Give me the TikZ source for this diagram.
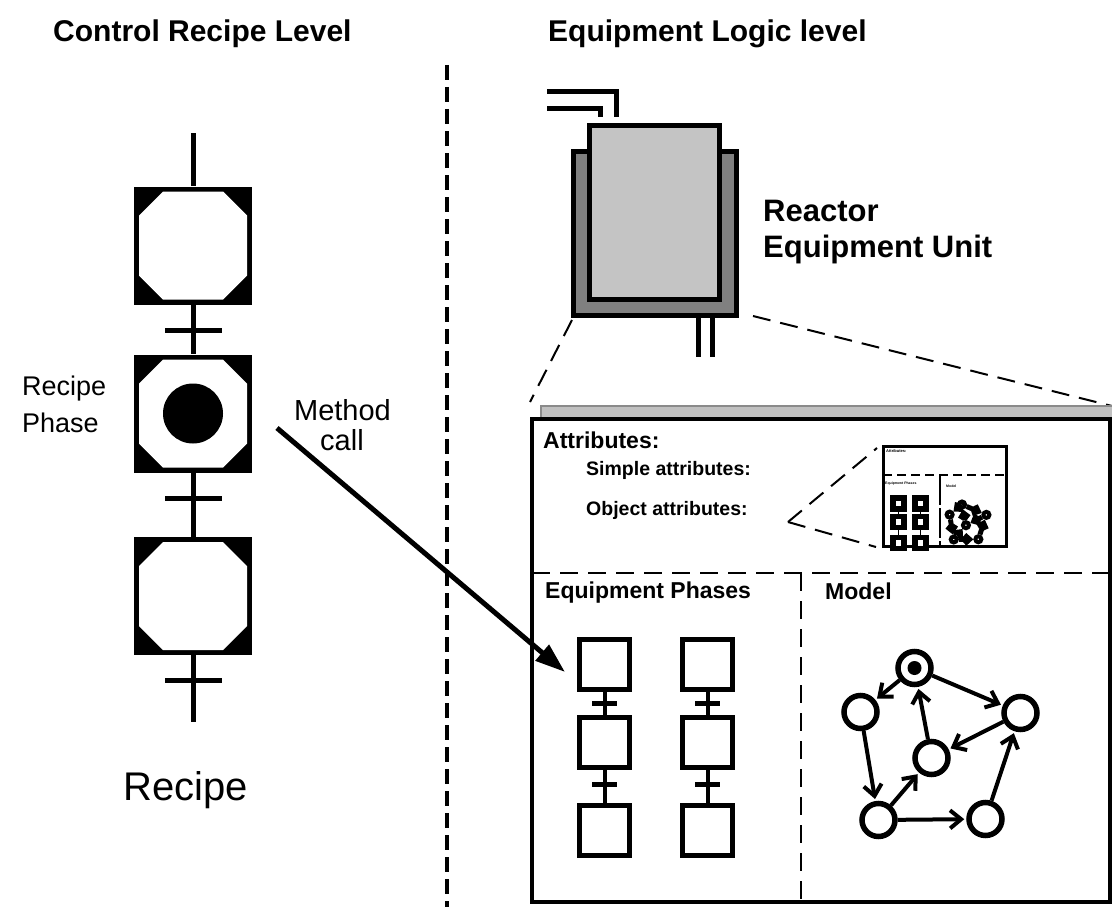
\documentclass[tikz,border=0pt]{standalone}
\usepackage{fontspec}
\setmainfont{Liberation Sans}
\usetikzlibrary{arrows.meta,calc}
\definecolor{vesseldark}{HTML}{808080}
\definecolor{vessellight}{HTML}{C4C4C4}
\definecolor{shadowfill}{HTML}{C0C0C0}
\definecolor{shadowline}{HTML}{8A8A8A}
\newcommand\fsz[1]{\fontsize{#1}{#1}\selectfont}
% a recipe step: black square with a white octagon cut into it
\newcommand\recipestep[2]{%
  \node[stepsq] (#1) at (#2) {};
  \fill[white] ($(#1)+(-54,-30)$) -- ($(#1)+(-30,-54)$) -- ($(#1)+(30,-54)$)
    -- ($(#1)+(54,-30)$) -- ($(#1)+(54,30)$) -- ($(#1)+(30,54)$)
    -- ($(#1)+(-30,54)$) -- ($(#1)+(-54,30)$) -- cycle;
}
\begin{document}
\begin{tikzpicture}[x=1pt,y=-1pt,
  txt/.style={inner sep=0pt, anchor=base west},
  heading/.style={txt, font=\fsz{30}\bfseries},
  stepsq/.style={rectangle, fill=black, minimum size=118pt, inner sep=0pt},
  tbar/.style={rectangle, fill=black, minimum width=57pt, minimum height=5pt, inner sep=0pt},
  rline/.style={line width=5pt},
  zoomline/.style={line width=2pt, dash pattern=on 18pt off 10pt},
  secline/.style={line width=2pt, dash pattern=on 18pt off 10pt},
  psq/.style={rectangle, draw, line width=5pt, minimum size=50pt, inner sep=0pt, fill=white},
  pbar/.style={rectangle, fill=black, minimum width=25pt, minimum height=5pt, inner sep=0pt},
  plink/.style={line width=4pt},
  mnode/.style={circle, draw, line width=5.5pt, minimum size=33pt, inner sep=0pt, fill=white},
  mdot/.style={circle, fill=black, minimum size=14pt, inner sep=0pt},
  medge/.style={line width=4pt, shorten >=2pt, -{Straight Barb[length=11pt,width=18pt]}},
  phasechain/.pic={
    \node[psq] (-a) at (0,0) {};
    \node[psq] (-b) at (0,78) {};
    \node[psq] (-c) at (0,165.5) {};
    \draw[plink] (-a) -- (-b);
    \draw[plink] (-b) -- (-c);
    \node[pbar] (-t1) at (0,39) {};
    \node[pbar] (-t2) at (0,120) {};
  },
  modelnet/.pic={
    \node[mnode] (-t) at (-26,-76) {};
    \node[mdot] (-d) at (-26,-76) {};
    \node[mnode] (-l) at (-80,-32) {};
    \node[mnode] (-r) at (80,-31) {};
    \node[mnode] (-m) at (-9,14) {};
    \node[mnode] (-bl) at (-62,76) {};
    \node[mnode] (-br) at (45,75) {};
    \draw[medge] (-t) -- (-l);
    \draw[medge] (-t) -- (-r);
    \draw[medge] (-l) -- (-bl);
    \draw[medge] (-bl) -- (-m);
    \draw[medge] (-m) -- (-t);
    \draw[medge] (-r) -- (-m);
    \draw[medge] (-bl) -- (-br);
    \draw[medge] (-br) -- (-r);
  }
]
\useasboundingbox (0,0) rectangle (1112,907);

% headings and the dividing line
\node[heading] (h1) at (53,42) {Control Recipe Level};
\node[heading] (h2) at (548,42) {Equipment Logic level};
\coordinate (divtop) at (447,65);
\coordinate (divbot) at (447,907);
\draw[line width=3.5pt, dash pattern=on 15pt off 7pt] (divtop) -- (divbot);

% recipe chain
\coordinate (rtop) at (193,133);
\coordinate (rend) at (193,722);
\recipestep{r1}{193,245.5}
\recipestep{r2}{193,413.5}
\recipestep{r3}{193,596}
\node[circle, fill=black, minimum size=60pt, inner sep=0pt] (rdot) at (r2) {};
\draw[rline] (rtop) -- (r1);
\draw[rline] (r1) -- (r2);
\draw[rline] (r2) -- (r3);
\draw[rline] (r3) -- (rend);
\node[tbar] (t1) at (193,330) {};
\node[tbar] (t2) at (193,498) {};
\node[tbar] (t3) at (193,680) {};
\node[txt, font=\fsz{27}] (rp1) at (22,395) {Recipe};
\node[txt, font=\fsz{27}] (rp2) at (22,432) {Phase};
\node[txt, font=\fsz{40}] (rlab) at (123,800) {Recipe};
\node[inner sep=0pt, anchor=base, font=\fsz{29}] (mc1) at (342.5,420) {Method};
\node[inner sep=0pt, anchor=base, font=\fsz{29}] (mc2) at (342,450) {call};

% reactor equipment unit
\draw[line width=5pt] (547,92) -- (616,92) -- (616,117);
\draw[line width=5pt] (547,109) -- (600,109) -- (600,117);
\node[rectangle, draw, line width=5pt, fill=vesseldark, minimum width=163pt, minimum height=164pt, inner sep=0pt] (outer) at (655,233.5) {};
\node[rectangle, draw, line width=5pt, fill=vessellight, minimum width=130pt, minimum height=174pt, inner sep=0pt] (inner) at (654.5,212.5) {};
\draw[line width=5pt] (698,318) -- (698,357);
\draw[line width=5pt] (712,318) -- (712,357);
\node[txt, font=\fsz{31}\bfseries] (rx1) at (763,221) {Reactor};
\node[txt, font=\fsz{31}\bfseries] (rx2) at (763,257) {Equipment Unit};

% zoom lines down to the unit's detail box
\draw[zoomline] (572,320) -- (530,402);
\draw[zoomline] (753,316) -- (1112,406);

% detail box with its shadow
\filldraw[fill=shadowfill, draw=shadowline, line width=2pt] (541,406) rectangle (1122,880);
\node[rectangle, draw, line width=4pt, fill=white, minimum width=578pt, minimum height=483pt, inner sep=0pt] (ebox) at (821,660.5) {};
\coordinate (hsepL) at (532,573);
\coordinate (hsepR) at (1110,573);
\coordinate (vsepT) at (801,573);
\coordinate (vsepB) at (801,902);
\draw[secline] (hsepL) -- (hsepR);
\draw[secline] (vsepT) -- (vsepB);
\node[txt, font=\fsz{23}\bfseries] (at1) at (543,448) {Attributes:};
\node[txt, font=\fsz{19.5}\bfseries] (at2) at (586,475) {Simple attributes:};
\node[txt, font=\fsz{19.5}\bfseries] (at3) at (586,515) {Object attributes:};
\node[txt, font=\fsz{23}\bfseries] (ep) at (545,598) {Equipment Phases};
\node[txt, font=\fsz{23}\bfseries] (md) at (825,599) {Model};

% equipment phase chains
\pic (pa) at (604.5,664.5) {phasechain};
\pic (pb) at (707.5,664.5) {phasechain};

% model network
\pic (mg) at (940.5,744) {modelnet};

% method call arrow
\coordinate (mstart) at (277,428);
\coordinate (mend) at (565,672);
\draw[line width=5pt, -{Triangle[length=30pt,width=20pt]}] (mstart) -- (mend);

% miniature of an object attribute
\coordinate (apex) at (788,522);
\node[rectangle, draw, line width=3pt, fill=white, minimum width=123pt, minimum height=100pt, inner sep=0pt] (inset) at (945,496.5) {};
\draw[zoomline] (apex) -- (877,448);
\draw[zoomline] (apex) -- (876,547);
\coordinate (ihL) at (883,475);
\coordinate (ihR) at (1007,475);
\coordinate (ivT) at (940,475);
\coordinate (ivB) at (940,547);
\draw[line width=1.5pt, dash pattern=on 9pt off 5pt] (ihL) -- (ihR);
\draw[line width=1.2pt, dash pattern=on 30pt off 3pt] (ivT) -- (ivB);
\node[txt, font=\fsz{4}\bfseries] (ia1) at (886,452) {Attributes:};
\node[txt, font=\fsz{3.5}\bfseries] (ia2) at (885,484) {Equipment Phases};
\node[txt, font=\fsz{3.5}\bfseries] (ia3) at (946,487) {Model};
\pic[scale=0.24,
  psq/.style={rectangle, draw, line width=5.5pt, minimum size=11pt, inner sep=0pt, fill=white},
  pbar/.style={inner sep=0pt, minimum size=0pt},
  plink/.style={line width=0.8pt}] (ipa) at (898.5,503.5) {phasechain};
\pic[scale=0.24,
  psq/.style={rectangle, draw, line width=5.5pt, minimum size=11pt, inner sep=0pt, fill=white},
  pbar/.style={inner sep=0pt, minimum size=0pt},
  plink/.style={line width=0.8pt}] (ipb) at (920.5,503.5) {phasechain};
\pic[scale=0.23,
  mnode/.style={circle, draw, line width=4pt, minimum size=6pt, inner sep=0pt, fill=white},
  mdot/.style={circle, fill=black, minimum size=2pt, inner sep=0pt},
  medge/.style={line width=5pt, -{Straight Barb[length=5pt,width=9pt]}}] (im) at (968,522) {modelnet};
\end{tikzpicture}
\end{document}
